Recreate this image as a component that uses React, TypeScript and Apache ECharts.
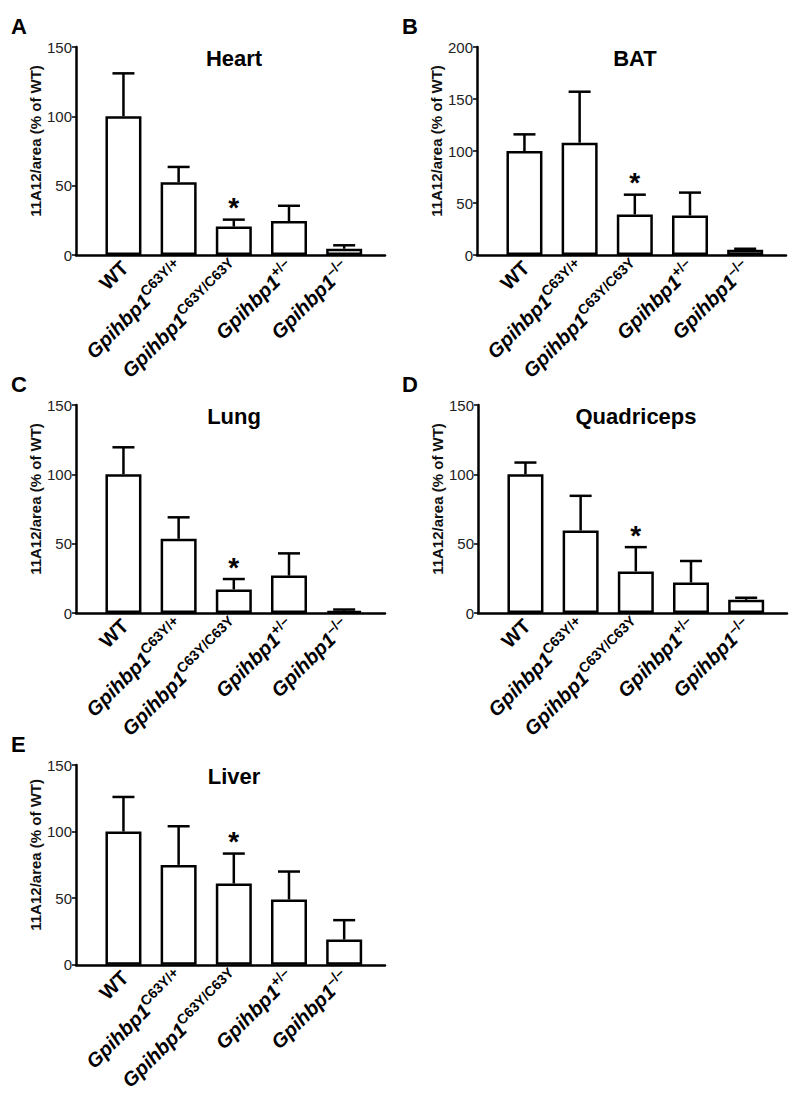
import React, { useEffect, useRef } from "react";
import * as echarts from "echarts";

// ---- data ----
const geneName = "Gpihbp1";
const genotypes = ["WT", "C63Y/+", "C63Y/C63Y", "+/–", "–/–"];
const panelLetters = ["A", "B", "C", "D", "E"];
const tissues = ["Heart", "BAT", "Lung", "Quadriceps", "Liver"];
const yAxisTitle = "11A12/area (% of WT)";

const heartMean = [100, 52.5, 20.5, 24.5, 4.5];
const heartErr = [31, 11, 5, 11, 2.5];
const batMean = [100, 108, 39, 38, 5];
const batErr = [16, 49, 19, 22, 1];
const lungMean = [100, 53.5, 17, 27, 1.5];
const lungErr = [19.5, 15.5, 7.5, 16, 1];
const quadMean = [100, 59.5, 30, 22, 9.5];
const quadErr = [8.5, 25, 17.5, 15.5, 1.5];
const liverMean = [100, 75, 61, 49, 19];
const liverErr = [26, 29, 22.5, 21, 14.5];
const significance = ["", "", "*", "", ""];
const yMaxes = [150, 200, 150, 150, 150];
const yTickStep = 50;

const means = [heartMean, batMean, lungMean, quadMean, liverMean];
const errs = [heartErr, batErr, lungErr, quadErr, liverErr];

// ---- layout ----
const FONT = "'Liberation Sans', Arial, Helvetica, sans-serif";
const grids = [
  { left: 76, top: 47, width: 309, height: 208 },
  { left: 477, top: 47, width: 309, height: 208 },
  { left: 76, top: 405, width: 309, height: 208 },
  { left: 478, top: 405, width: 309, height: 208 },
  { left: 76, top: 765, width: 309, height: 207 },
];
const letterPos = [
  { left: 11, top: 15 },
  { left: 402, top: 15 },
  { left: 11, top: 373 },
  { left: 402, top: 373 },
  { left: 11, top: 733 },
];
const X_MIN = 0.14;
const X_MAX = 5.74;

function labelFor(v: number) {
  const i = Math.round(v) - 1;
  if (i === 0) return "{w|" + genotypes[0] + "}";
  return "{g|" + geneName + "}{s|" + genotypes[i] + "}";
}

export default function App() {
  const ref = useRef<HTMLDivElement>(null);
  useEffect(() => {
    if (!ref.current) return;
    const chart = echarts.init(ref.current, undefined, { renderer: "svg" });

    const xAxes: any[] = [];
    const yAxes: any[] = [];
    const series: any[] = [];
    const titles: any[] = [];

    grids.forEach((g, p) => {
      xAxes.push({
        type: "value",
        gridIndex: p,
        min: X_MIN,
        max: X_MAX,
        axisLine: { show: true, onZero: false, lineStyle: { color: "#000", width: 2.5 } },
        axisTick: { show: false },
        splitLine: { show: false },
        axisLabel: {
          customValues: [1, 2, 3, 4, 5],
          rotate: 45,
          margin: 8,
          formatter: (v: number) => labelFor(v),
          rich: {
            w: { fontFamily: FONT, fontSize: 20, fontWeight: "bold", color: "#000", lineHeight: 24, verticalAlign: "bottom" },
            g: { fontFamily: FONT, fontSize: 20, fontWeight: "bold", fontStyle: "italic", color: "#000", lineHeight: 24, verticalAlign: "bottom" },
            s: { fontFamily: FONT, fontSize: 14, fontWeight: "bold", color: "#000", lineHeight: 14, verticalAlign: "bottom", padding: [0, 0, 9, 0] },
          },
        },
      });
      yAxes.push({
        type: "value",
        gridIndex: p,
        min: 0,
        max: yMaxes[p],
        interval: yTickStep,
        name: yAxisTitle,
        nameLocation: "middle",
        nameGap: 25,
        nameTextStyle: { fontFamily: FONT, fontSize: 15, fontWeight: "bold", color: "#111", padding: [0, 0, 0, 20] },
        axisLine: { show: true, lineStyle: { color: "#000", width: 2.5 } },
        axisTick: { show: true, length: 4, lineStyle: { color: "#000", width: 1.5 } },
        splitLine: { show: false },
        axisLabel: { fontFamily: FONT, fontSize: 15, color: "#222", margin: 4 },
      });
      series.push({
        type: "bar",
        xAxisIndex: p,
        yAxisIndex: p,
        barWidth: 36,
        data: means[p].map((m, i) => [i + 1, m]),
        itemStyle: { color: "#fff", borderColor: "#000", borderWidth: 2.5 },
        z: 2,
      });
      series.push({
        type: "custom",
        xAxisIndex: p,
        yAxisIndex: p,
        z: 3,
        data: means[p].map((m, i) => [i + 1, m, m + errs[p][i], i]),
        renderItem: (params: any, api: any) => {
          const x = api.value(0);
          const top = api.coord([x, api.value(1)]);
          const cap = api.coord([x, api.value(2)]);
          const idx = api.value(3);
          const children: any[] = [
            {
              type: "line",
              shape: { x1: top[0], y1: top[1], x2: cap[0], y2: cap[1] },
              style: { stroke: "#000", lineWidth: 2.5 },
            },
            {
              type: "line",
              shape: { x1: cap[0] - 11, y1: cap[1], x2: cap[0] + 11, y2: cap[1] },
              style: { stroke: "#000", lineWidth: 2.5 },
            },
          ];
          if (significance[idx]) {
            children.push({
              type: "text",
              x: cap[0],
              y: cap[1] - 12,
              style: {
                text: significance[idx],
                fontFamily: FONT,
                fontSize: 28,
                fontWeight: "bold",
                fill: "#000",
                textAlign: "center",
                textVerticalAlign: "middle",
              },
            });
          }
          return { type: "group", children };
        },
      });
      titles.push({
        text: tissues[p],
        left: g.left + 158,
        top: g.top,
        textAlign: "center",
        textStyle: { fontFamily: FONT, fontSize: 22, fontWeight: "bold", color: "#000" },
        padding: 0,
      });
      titles.push({
        text: panelLetters[p],
        left: letterPos[p].left,
        top: letterPos[p].top,
        textStyle: { fontFamily: FONT, fontSize: 22, fontWeight: "bold", color: "#000" },
        padding: 0,
      });
    });

    chart.setOption({
      animation: false,
      backgroundColor: "#fff",
      title: titles,
      grid: grids.map((g) => ({ ...g, containLabel: false })),
      xAxis: xAxes,
      yAxis: yAxes,
      series,
    });
    return () => chart.dispose();
  }, []);

  return (
    <div
      ref={ref}
      style={{ position: "absolute", left: 0, top: 0, width: 790, height: 1093 }}
    />
  );
}
